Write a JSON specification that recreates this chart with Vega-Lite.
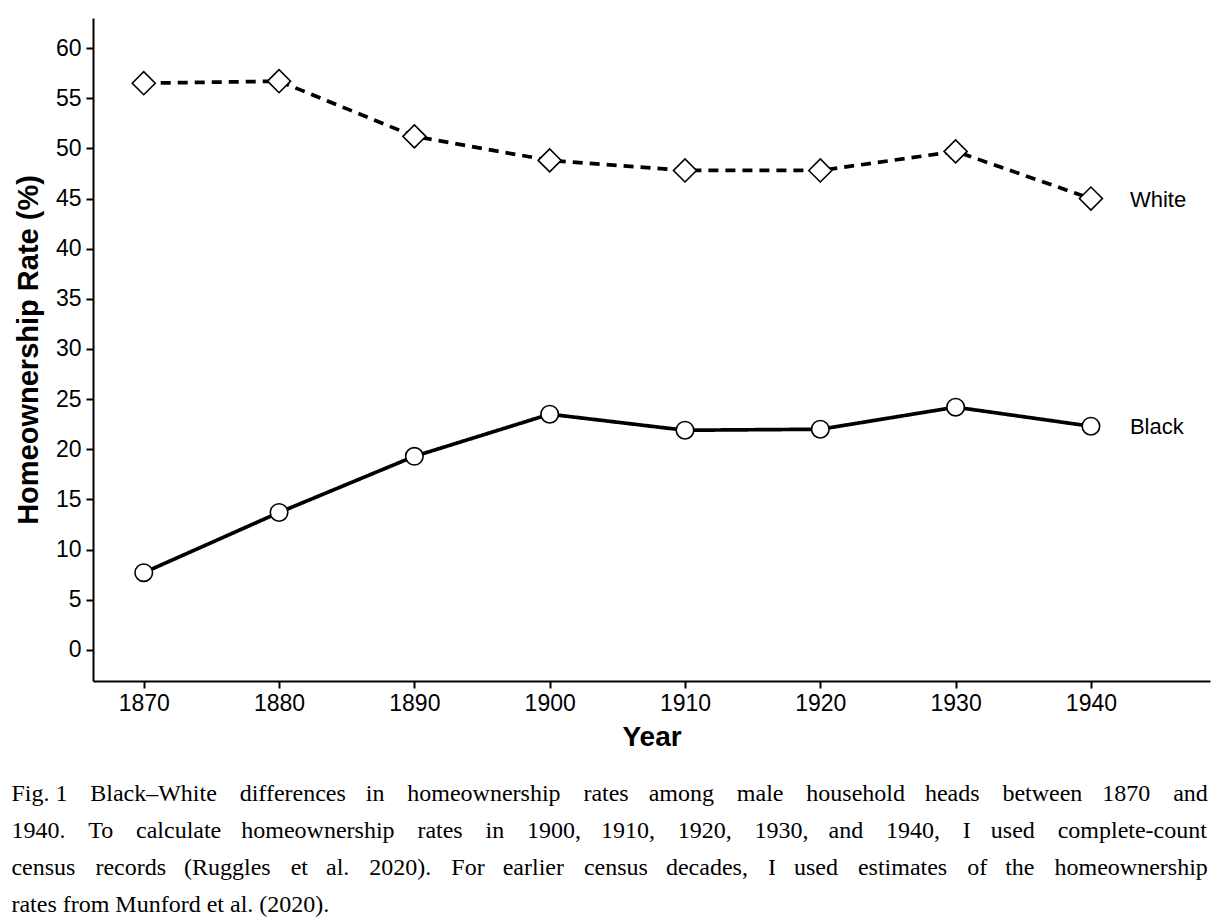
{
  "$schema": "https://vega.github.io/schema/vega-lite/v6.json",
  "width": 1117,
  "height": 663,
  "autosize": {"type": "none"},
  "padding": {"left": 93, "top": 18, "right": 16, "bottom": 241},
  "background": "white",
  "title": {
    "text": [
      "Fig. 1 \u2002\u2009Black–White \u2002\u2009differences \u2002\u200ain \u2002\u2009homeownership \u2002\u2009rates \u2002\u200aamong \u2002\u2009male \u2002\u2009household \u2002\u200aheads \u2002\u2009between \u2002\u200a1870 \u2002\u2009and",
      "1940. \u2002\u2009To \u2002\u2009calculate \u2002\u200ahomeownership \u2002\u2009rates \u2002\u2009in \u2002\u20091900, \u2002\u200a1910, \u2002\u20091920, \u2002\u20091930, \u2002\u200aand \u2002\u20091940, \u2002\u2009I \u2002\u200aused \u2002\u2009complete-count",
      "census \u2002\u200arecords \u2002(Ruggles \u2002\u200aet \u2002al. \u2002\u200a2020). \u2002\u200aFor \u2002earlier \u2002\u200acensus \u2002decades, \u2002\u200aI \u2002used \u2002\u200aestimates \u2002\u200aof \u2002the \u2002\u200ahomeownership",
      "rates from Munford et al. (2020)."
    ],
    "orient": "bottom",
    "anchor": "start",
    "frame": "bounds",
    "font": "Liberation Serif",
    "fontSize": 24,
    "fontWeight": "normal",
    "color": "black",
    "lineHeight": 37,
    "offset": 31,
    "dx": -3
  },
  "data": {
    "values": [
      {"year": 1870, "race": "White", "rate": 56.5},
      {"year": 1880, "race": "White", "rate": 56.7},
      {"year": 1890, "race": "White", "rate": 51.2},
      {"year": 1900, "race": "White", "rate": 48.8},
      {"year": 1910, "race": "White", "rate": 47.8},
      {"year": 1920, "race": "White", "rate": 47.8},
      {"year": 1930, "race": "White", "rate": 49.7},
      {"year": 1940, "race": "White", "rate": 45.0},
      {"year": 1870, "race": "Black", "rate": 7.7},
      {"year": 1880, "race": "Black", "rate": 13.7},
      {"year": 1890, "race": "Black", "rate": 19.3},
      {"year": 1900, "race": "Black", "rate": 23.5},
      {"year": 1910, "race": "Black", "rate": 21.9},
      {"year": 1920, "race": "Black", "rate": 22.0},
      {"year": 1930, "race": "Black", "rate": 24.2},
      {"year": 1940, "race": "Black", "rate": 22.3}
    ]
  },
  "encoding": {
    "x": {
      "field": "year",
      "type": "quantitative",
      "scale": {"domain": [1866.25, 1948.8], "nice": false, "zero": false},
      "axis": {
        "title": "Year",
        "values": [1870, 1880, 1890, 1900, 1910, 1920, 1930, 1940],
        "format": "d",
        "labelPadding": 4,
        "titlePadding": 8,
        "titleFontSize": 28
      }
    },
    "y": {
      "field": "rate",
      "type": "quantitative",
      "scale": {"domain": [-3.1, 63], "nice": false, "zero": false},
      "axis": {
        "title": "Homeownership Rate (%)",
        "values": [0, 5, 10, 15, 20, 25, 30, 35, 40, 45, 50, 55, 60],
        "labelPadding": 5,
        "titlePadding": 12,
        "titleFontSize": 29
      }
    }
  },
  "layer": [
    {
      "mark": {"type": "line", "color": "black", "strokeWidth": 3.7},
      "encoding": {
        "detail": {"field": "race"},
        "strokeDash": {
          "field": "race",
          "type": "nominal",
          "scale": {"domain": ["Black", "White"], "range": [[1, 0], [10, 7]]},
          "legend": null
        }
      }
    },
    {
      "mark": {"type": "point", "filled": true, "fill": "white", "stroke": "black", "strokeWidth": 1.6, "opacity": 1},
      "encoding": {
        "shape": {
          "field": "race",
          "type": "nominal",
          "scale": {"domain": ["Black", "White"], "range": ["circle", "diamond"]},
          "legend": null
        },
        "size": {
          "field": "race",
          "type": "nominal",
          "scale": {"domain": ["Black", "White"], "range": [306, 530]},
          "legend": null
        }
      }
    },
    {
      "transform": [{"filter": "datum.year == 1940"}],
      "mark": {"type": "text", "align": "left", "baseline": "middle", "dx": 39, "dy": 1, "font": "Liberation Sans", "fontSize": 22, "color": "black"},
      "encoding": {"text": {"field": "race"}}
    }
  ],
  "config": {
    "view": {"stroke": null},
    "axis": {
      "grid": false,
      "domainColor": "black",
      "domainWidth": 2,
      "tickColor": "black",
      "tickWidth": 2,
      "tickSize": 7,
      "labelFont": "Liberation Sans",
      "labelFontSize": 23,
      "labelColor": "black",
      "titleFont": "Liberation Sans",
      "titleFontWeight": "bold",
      "titleColor": "black"
    }
  }
}
